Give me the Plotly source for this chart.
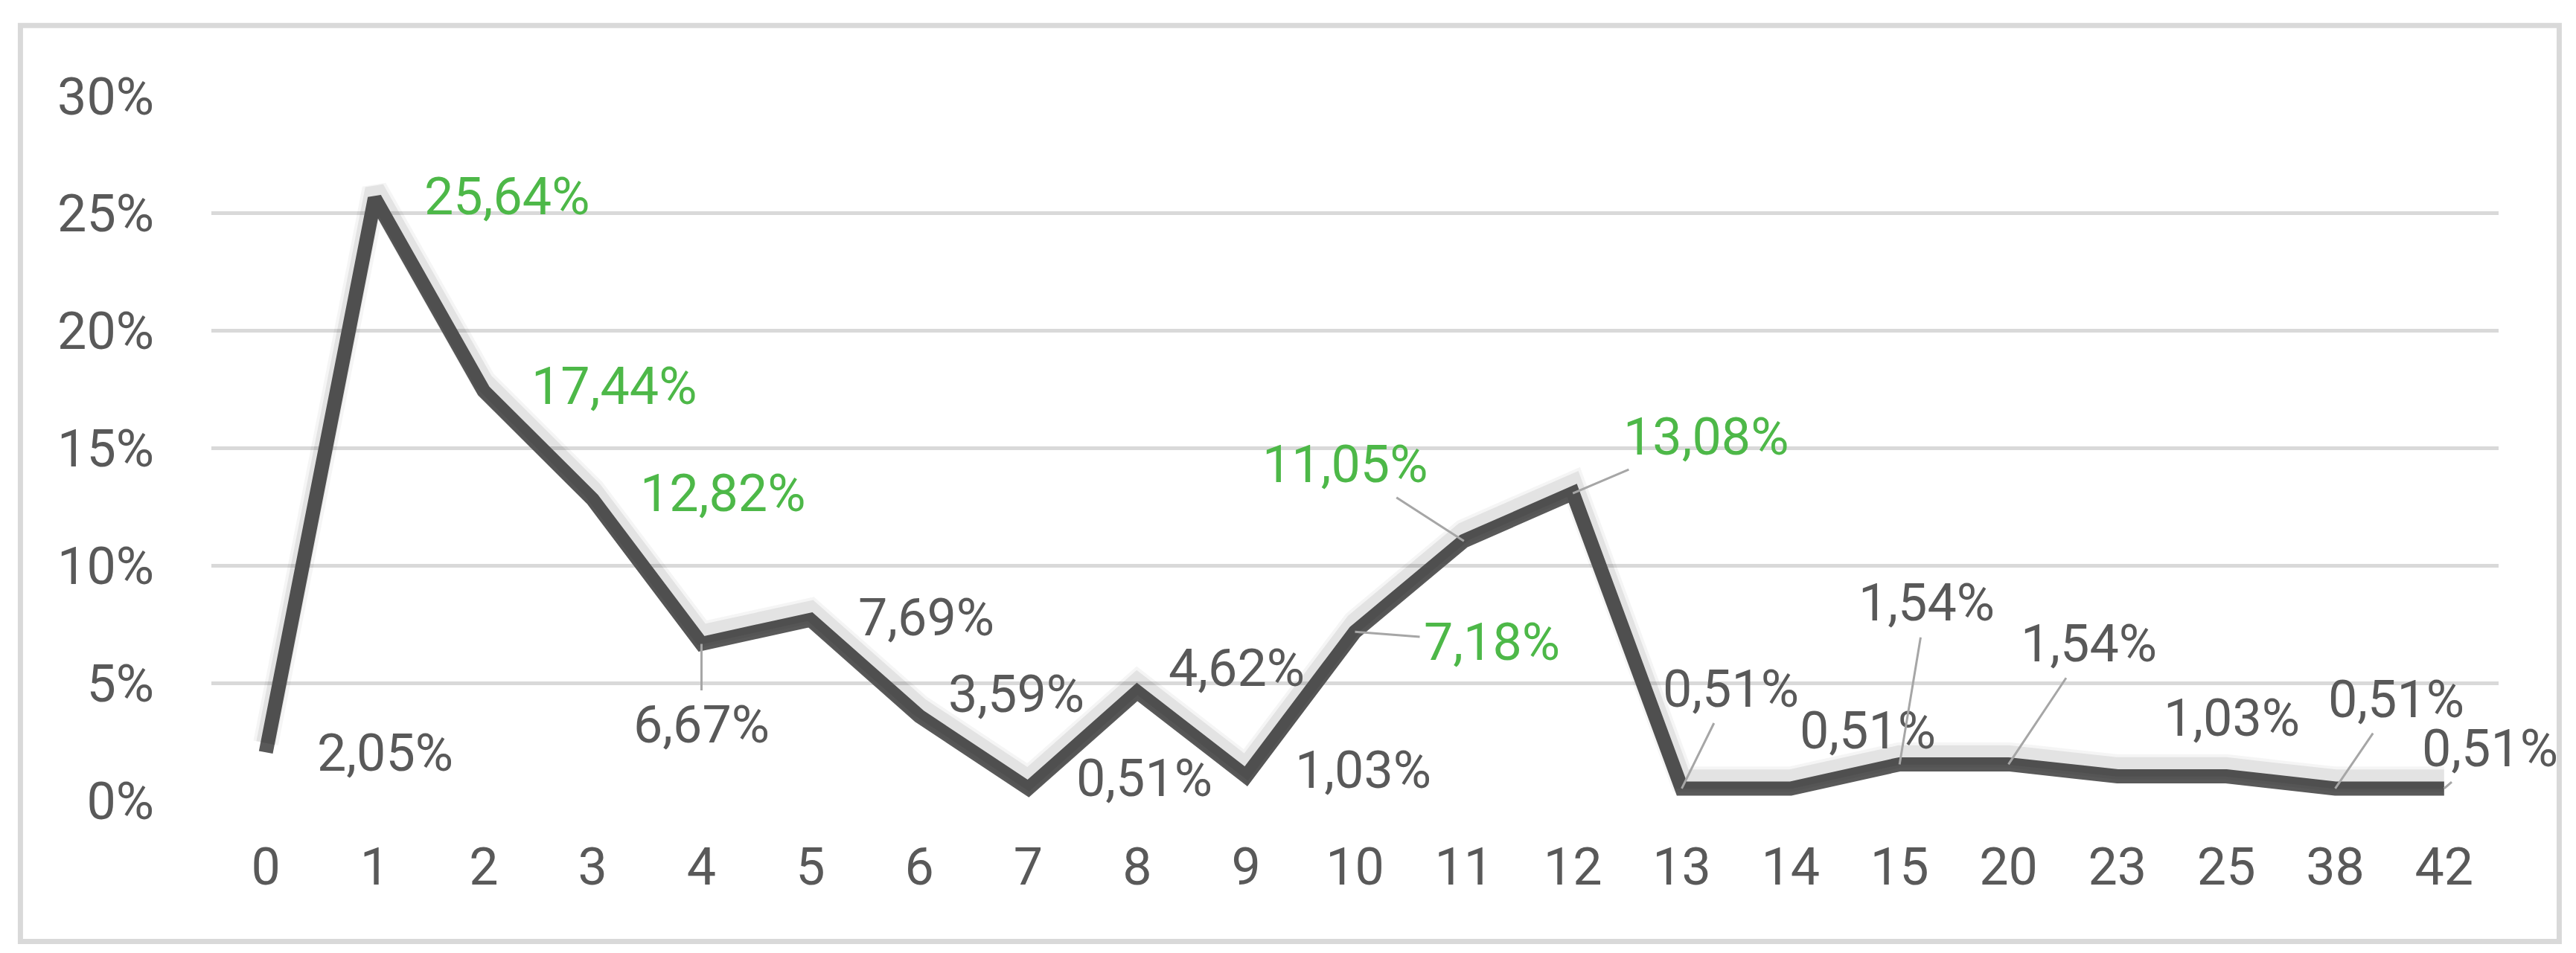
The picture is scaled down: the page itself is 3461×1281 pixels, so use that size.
import plotly.graph_objects as go

categories = ["0", "1", "2", "3", "4", "5", "6", "7", "8", "9", "10",
              "11", "12", "13", "14", "15", "20", "23", "25", "38", "42"]
values = [2.05, 25.64, 17.44, 12.82, 6.67, 7.69, 3.59, 0.51, 4.62, 1.03, 7.18,
          11.05, 13.08, 0.51, 0.51, 1.54, 1.54, 1.03, 1.03, 0.51, 0.51]
highlighted = ["1", "2", "3", "10", "11", "12"]
unlabelled = ["25"]
y_ticks = [0, 5, 10, 15, 20, 25, 30]
y_tick_text = ["0%", "5%", "10%", "15%", "20%", "25%", "30%"]

GREY = "#595959"
GREEN = "#4db848"
GRID = "#d9d9d9"
FONT = "Roboto"
SIZE = 70

# label offsets in pixels (dx, dy, leader line shown)
label_offsets = {
    "0": (160, 1, False), "1": (177, -3, False), "2": (175, -6, False),
    "3": (175, -8, False), "4": (0, 109, True), "5": (156, -3, False),
    "6": (130, -30, False), "7": (156, -14, False), "8": (134, -32, False),
    "9": (157, -8, False), "10": (184, 14, True), "11": (-160, -103, True),
    "12": (179, -76, True), "13": (66, -134, True), "14": (104, -78, False),
    "15": (36, -217, True), "20": (108, -162, True), "23": (154, -78, False),
    "38": (82, -120, True), "42": (62, -54, True),
}

fig = go.Figure()

# soft shadow under the line
for w, a in [(34, 0.04), (26, 0.07)]:
    fig.add_trace(go.Scatter(
        x=categories, y=values, mode="lines", yaxis="y2",
        line=dict(color=f"rgba(0,0,0,{a})", width=w),
        hoverinfo="skip", showlegend=False,
    ))

fig.add_trace(go.Scatter(
    x=categories, y=values, mode="lines",
    line=dict(color=GREY, width=19),
    showlegend=False,
))

annotations = []
for i, (cat, val) in enumerate(zip(categories, values)):
    if cat in unlabelled:
        continue
    dx, dy, leader = label_offsets[cat]
    annotations.append(dict(
        x=i, y=val, xref="x", yref="y",
        text=f"{val:.2f}".replace(".", ",") + "%",
        showarrow=True, ax=dx, ay=dy, arrowhead=0,
        arrowwidth=3, standoff=0, startstandoff=4,
        arrowcolor="#a6a6a6" if leader else "rgba(0,0,0,0)",
        font=dict(family=FONT, size=SIZE,
                  color=GREEN if cat in highlighted else GREY),
    ))

fig.update_layout(
    width=3461, height=1281,
    margin=dict(l=276, r=112, t=121, b=213),
    paper_bgcolor="white", plot_bgcolor="white",
    font=dict(family=FONT, size=SIZE, color=GREY),
    annotations=annotations,
    shapes=[dict(
        type="rect", xref="paper", yref="paper",
        x0=-0.0835, x1=1.0265, y0=-0.2, y1=1.1,
        line=dict(color=GRID, width=7), layer="below",
    )],
    xaxis=dict(
        type="category", range=[-0.5, len(categories) - 0.5],
        showgrid=False, zeroline=False, showline=False,
        tickmode="array", tickvals=categories, ticktext=categories,
        ticks="outside", ticklen=28, tickcolor="rgba(0,0,0,0)",
        tickfont=dict(family=FONT, size=SIZE, color=GREY),
    ),
    yaxis=dict(
        range=[0, 30], tickmode="array", tickvals=y_ticks,
        ticktext=y_tick_text,
        showgrid=True, gridcolor=GRID, gridwidth=5, zeroline=False,
        showline=False, ticks="outside", ticklen=62,
        tickcolor="rgba(0,0,0,0)",
        tickfont=dict(family=FONT, size=SIZE, color=GREY),
    ),
    yaxis2=dict(
        overlaying="y", range=[-0.4, 29.6], visible=False,
    ),
)

fig.write_html("out.html")
